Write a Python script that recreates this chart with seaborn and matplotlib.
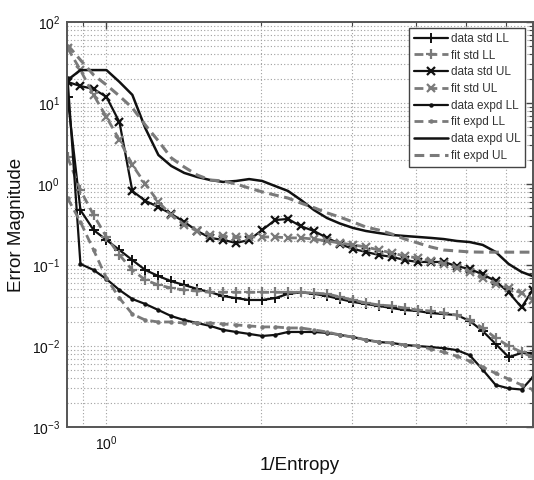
import matplotlib
matplotlib.use("Agg")
import matplotlib.pyplot as plt
import seaborn as sns
import pandas as pd
from matplotlib.ticker import LogLocator, NullFormatter, LogFormatterSciNotation

# 1/Entropy sample points shared by every series
inv_entropy = [0.840, 0.890, 0.944, 1.000, 1.060, 1.123, 1.190, 1.262, 1.337, 1.417,
               1.502, 1.592, 1.687, 1.788, 1.895, 2.009, 2.129, 2.256, 2.391, 2.534,
               2.686, 2.847, 3.017, 3.198, 3.389, 3.592, 3.807, 4.035, 4.276, 4.532,
               4.804, 5.091, 5.396, 5.719, 6.061, 6.424, 6.747]

std_ll_data = [11.9, 0.477, 0.27, 0.204, 0.153, 0.115, 0.0868, 0.073, 0.063, 0.0566,
               0.0506, 0.046, 0.0414, 0.039, 0.037, 0.037, 0.039, 0.044, 0.046, 0.044,
               0.0414, 0.038, 0.035, 0.033, 0.0312, 0.0294, 0.0278, 0.027, 0.0255, 0.0248,
               0.0241, 0.0204, 0.0153, 0.0106, 0.0073, 0.0082, 0.0082]
std_ll_fit = [2.15, 0.84, 0.414, 0.222, 0.133, 0.0868, 0.0653, 0.0566, 0.052, 0.0491,
              0.0478, 0.046, 0.046, 0.046, 0.046, 0.046, 0.046, 0.046, 0.046, 0.045,
              0.044, 0.0403, 0.037, 0.034, 0.0321, 0.0312, 0.0294, 0.0278, 0.027, 0.0255,
              0.0241, 0.0209, 0.0167, 0.01256, 0.0100, 0.0084, 0.0073]
std_ul_data = [18.2, 16.2, 14.9, 11.9, 5.8, 0.82, 0.62, 0.52, 0.427, 0.34,
               0.263, 0.216, 0.204, 0.187, 0.204, 0.27, 0.359, 0.37, 0.30, 0.263,
               0.216, 0.182, 0.158, 0.145, 0.133, 0.126, 0.115, 0.109, 0.109, 0.109,
               0.097, 0.089, 0.077, 0.063, 0.046, 0.030, 0.049]
std_ul_fit = [47.8, 25.5, 12.6, 6.7, 3.49, 1.72, 1.0, 0.60, 0.414, 0.312,
              0.263, 0.235, 0.228, 0.222, 0.222, 0.222, 0.222, 0.216, 0.216, 0.209,
              0.198, 0.187, 0.177, 0.167, 0.153, 0.141, 0.129, 0.122, 0.112, 0.103,
              0.092, 0.082, 0.069, 0.058, 0.052, 0.045, 0.037]
expd_ll_data = [20.4, 0.103, 0.0868, 0.067, 0.0491, 0.038, 0.033, 0.0278, 0.0234, 0.0209,
                0.0192, 0.0177, 0.0158, 0.0149, 0.0141, 0.0133, 0.0137, 0.0149, 0.0149, 0.0149,
                0.0145, 0.0137, 0.0129, 0.0119, 0.0112, 0.0109, 0.0103, 0.0100, 0.0097, 0.0094,
                0.0089, 0.0077, 0.0051, 0.0033, 0.0030, 0.0029, 0.0041]
expd_ll_fit = [0.671, 0.34, 0.153, 0.069, 0.039, 0.0248, 0.0209, 0.0198, 0.0198, 0.0192,
               0.0192, 0.0192, 0.0187, 0.0182, 0.0177, 0.0172, 0.0172, 0.0167, 0.0167, 0.0158,
               0.0149, 0.0137, 0.0129, 0.0119, 0.0112, 0.0109, 0.0103, 0.0100, 0.0092, 0.0084,
               0.0075, 0.0065, 0.0055, 0.0046, 0.0039, 0.0033, 0.0029]
expd_ul_data = [19.2, 25.5, 25.5, 25.5, 18.2, 12.6, 4.9, 2.28, 1.67, 1.37,
                1.22, 1.12, 1.06, 1.09, 1.15, 1.09, 0.944, 0.82, 0.634, 0.477,
                0.38, 0.325, 0.287, 0.263, 0.248, 0.235, 0.228, 0.222, 0.216, 0.209,
                0.198, 0.192, 0.177, 0.145, 0.103, 0.082, 0.073]
expd_ul_fit = [52, 34, 22.2, 16.7, 12.2, 8.7, 5.35, 3.4, 2.1, 1.62,
               1.29, 1.12, 1.09, 1.0, 0.89, 0.80, 0.73, 0.67, 0.58, 0.51,
               0.44, 0.39, 0.34, 0.294, 0.27, 0.241, 0.209, 0.187, 0.167, 0.153,
               0.149, 0.145, 0.144, 0.144, 0.144, 0.144, 0.144]

series_labels = ["data std LL", "fit std LL", "data std UL", "fit std UL",
                 "data expd LL", "fit expd LL", "data expd UL", "fit expd UL"]
series_values = [std_ll_data, std_ll_fit, std_ul_data, std_ul_fit,
                 expd_ll_data, expd_ll_fit, expd_ul_data, expd_ul_fit]

BLACK = "#111111"
GRAY = "#7a7a7a"
SOLID = "-"
DASHED = (0, (3.2, 1.8))

# (color, linestyle, linewidth, marker, markersize, marker edge width)
styles = [
    (BLACK, SOLID, 1.6, "+", 7.5, 1.4),
    (GRAY, DASHED, 2.0, "+", 7.5, 1.6),
    (BLACK, SOLID, 1.6, "x", 5.5, 1.6),
    (GRAY, DASHED, 2.0, "x", 5.5, 1.6),
    (BLACK, SOLID, 1.6, "o", 2.2, 1.0),
    (GRAY, DASHED, 2.0, "o", 2.2, 1.0),
    (BLACK, SOLID, 1.8, None, 0, 0),
    (GRAY, DASHED, 2.2, None, 0, 0),
]

sns.set_theme(style="white")
plt.rcParams["font.family"] = ["Liberation Sans", "DejaVu Sans"]
plt.rcParams["mathtext.fontset"] = "custom"
plt.rcParams["mathtext.rm"] = "Liberation Sans"
plt.rcParams["mathtext.it"] = "Liberation Sans:italic"
plt.rcParams["mathtext.default"] = "regular"

fig = plt.figure(figsize=(5.34, 4.8), dpi=100)
fig.patch.set_facecolor("white")
ax = fig.add_axes([67 / 534, 1 - 427 / 480, (533 - 67) / 534, (427 - 22) / 480])
ax.set_xscale("log")
ax.set_yscale("log")

for label, vals, (col, ls, lw, mk, ms, mew) in zip(series_labels, series_values, styles):
    df = pd.DataFrame({"inv_entropy": inv_entropy, "error": vals})
    sns.lineplot(data=df, x="inv_entropy", y="error", ax=ax, estimator=None, sort=False,
                 color=col, linestyle=ls, linewidth=lw, marker=mk,
                 markersize=ms, markeredgecolor=col, markerfacecolor=col,
                 markeredgewidth=mew, label=label, legend=False)

ax.set_xlim(0.838, 6.76)
ax.set_ylim(1e-3, 1e2)

ax.xaxis.set_major_locator(LogLocator(base=10))
ax.xaxis.set_minor_locator(LogLocator(base=10, subs=range(2, 10)))
ax.xaxis.set_major_formatter(LogFormatterSciNotation())
ax.xaxis.set_minor_formatter(NullFormatter())
ax.yaxis.set_major_locator(LogLocator(base=10))
ax.yaxis.set_minor_locator(LogLocator(base=10, subs=range(2, 10), numticks=20))
ax.yaxis.set_major_formatter(LogFormatterSciNotation())
ax.yaxis.set_minor_formatter(NullFormatter())

ax.grid(True, which="both", linestyle=(0, (1, 2)), color="#a0a0a0", linewidth=0.8)
ax.set_axisbelow(True)

for sp in ax.spines.values():
    sp.set_color("#555555")
    sp.set_linewidth(1.4)
ax.tick_params(which="both", direction="in", top=True, right=True, color="#444444",
               labelsize=10, labelcolor="#111111")
ax.tick_params(which="major", length=5, width=1.0, pad=5)
ax.tick_params(which="minor", length=3, width=0.8)

ax.set_xlabel("1/Entropy", fontsize=13.5, color="#111111", labelpad=3)
ax.set_ylabel("Error Magnitude", fontsize=13.5, color="#111111", labelpad=5)

leg = ax.legend(loc="upper right", bbox_to_anchor=(0.983, 0.985), fontsize=8.5,
                frameon=True, fancybox=False, framealpha=1, edgecolor="#444444",
                handlelength=2.9, handletextpad=0.2, labelspacing=0.4,
                borderpad=0.4, borderaxespad=0, numpoints=1)
leg.get_frame().set_linewidth(1.0)
for t in leg.get_texts():
    t.set_color("#333333")

fig.savefig("out.png", dpi=100, facecolor="white")
